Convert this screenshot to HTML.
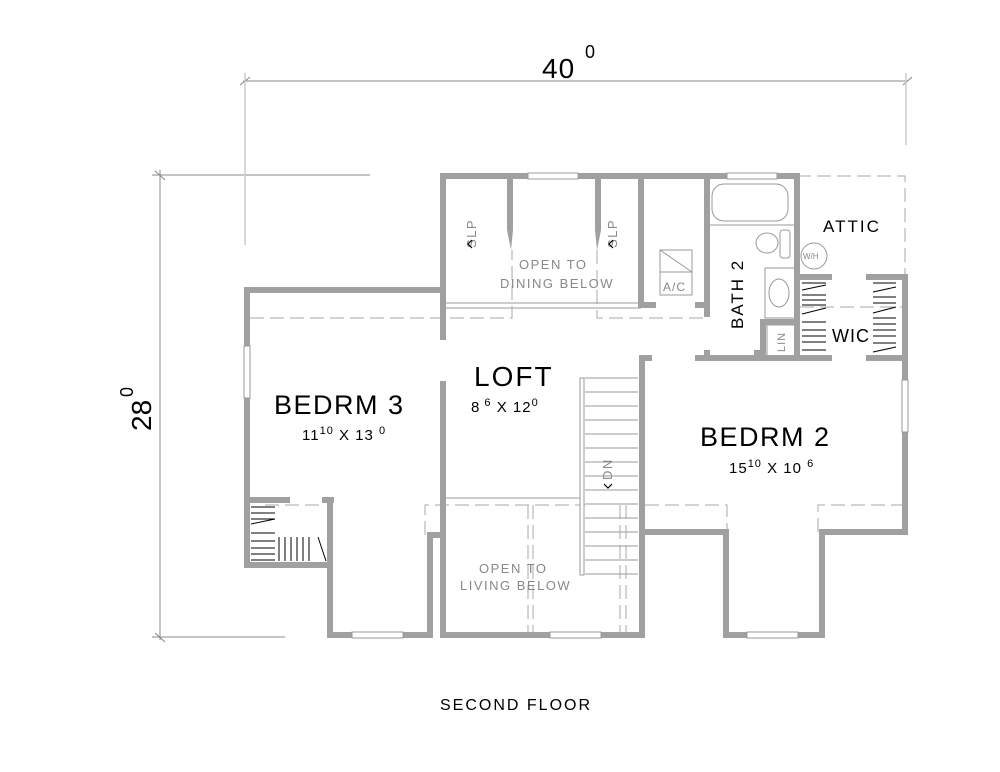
<!DOCTYPE html>
<html><head><style>
html,body{margin:0;padding:0;background:#fff;}
svg{display:block;font-family:"Liberation Sans",sans-serif;}
</style></head><body>
<svg width="1000" height="772" viewBox="0 0 1000 772" xmlns="http://www.w3.org/2000/svg">
<g stroke="#888" stroke-width="1" fill="none">
<line x1="243" y1="81" x2="908" y2="81"/>
<line x1="160" y1="170" x2="160" y2="640"/>
<line x1="152" y1="175" x2="370" y2="175"/>
<line x1="152" y1="637" x2="285" y2="637"/>
<line x1="240" y1="85" x2="250" y2="77"/><line x1="903" y1="85" x2="912" y2="77"/>
<line x1="155" y1="171" x2="165" y2="180"/><line x1="155" y1="633" x2="165" y2="642"/>
</g>
<g stroke="#ccc" stroke-width="1.5"><line x1="245" y1="73" x2="245" y2="245"/><line x1="906" y1="73" x2="906" y2="145"/></g>
<text x="542" y="78" font-size="28" letter-spacing="1">40</text><text x="585" y="58" font-size="18">0</text>
<g transform="translate(151,431) rotate(-90)"><text x="0" y="0" font-size="28">28</text><text x="34" y="-18" font-size="18">0</text></g>

<g stroke="#aaa" stroke-width="1" fill="none" stroke-dasharray="14,6">
<polyline points="250,318 512,318 512,250"/>
<polyline points="597,250 597,318 707,318"/>
<polyline points="797,176 905,176 905,277"/>
<line x1="800" y1="307" x2="905" y2="307"/>
<line x1="265" y1="505" x2="325" y2="505"/>
<polyline points="425,535 425,505 585,505"/>
<line x1="528" y1="505" x2="528" y2="635"/><line x1="533" y1="505" x2="533" y2="635"/>
<line x1="620" y1="505" x2="620" y2="635"/><line x1="626" y1="505" x2="626" y2="635"/>
<polyline points="645,505 727,505 727,532"/>
<polyline points="818,532 818,505 905,505"/>
<line x1="445" y1="250" x2="445" y2="320"/>
</g>

<g stroke="#999" stroke-width="1" fill="none">
<line x1="445" y1="303" x2="641" y2="303"/><line x1="445" y1="308" x2="641" y2="308"/>
<line x1="445" y1="498" x2="582" y2="498"/>
<rect x="580" y="378" width="4" height="197" fill="#fff"/>
<rect x="712" y="184" width="76" height="37" rx="12"/>
<line x1="710" y1="225" x2="795" y2="225"/>
<ellipse cx="767" cy="243" rx="11" ry="10"/><rect x="780" y="230" width="10" height="28" rx="3"/>
<rect x="765" y="268" width="32" height="50"/><ellipse cx="779" cy="293" rx="10" ry="14"/>
<circle cx="814" cy="256" r="13"/>
<rect x="660" y="250" width="32" height="45"/><line x1="660" y1="272" x2="692" y2="272"/><line x1="660" y1="250" x2="692" y2="272"/>
<rect x="767" y="325" width="28" height="32"/>
</g>
<g stroke="#999" stroke-width="1">
<line x1="585" y1="378" x2="638" y2="378"/><line x1="585" y1="392" x2="638" y2="392"/><line x1="585" y1="406" x2="638" y2="406"/>
<line x1="585" y1="420" x2="638" y2="420"/><line x1="585" y1="434" x2="638" y2="434"/><line x1="585" y1="448" x2="638" y2="448"/>
<line x1="585" y1="462" x2="638" y2="462"/><line x1="585" y1="476" x2="638" y2="476"/><line x1="585" y1="490" x2="638" y2="490"/>
<line x1="585" y1="504" x2="638" y2="504"/><line x1="585" y1="518" x2="638" y2="518"/><line x1="585" y1="532" x2="638" y2="532"/>
<line x1="585" y1="546" x2="638" y2="546"/><line x1="585" y1="560" x2="638" y2="560"/><line x1="585" y1="574" x2="638" y2="574"/>
</g>
<g stroke="#000" stroke-width="1">
<line x1="251" y1="507" x2="275" y2="507"/><line x1="251" y1="513" x2="275" y2="513"/><line x1="251" y1="519" x2="275" y2="519"/>
<line x1="251" y1="524" x2="275" y2="519"/><line x1="251" y1="533" x2="275" y2="533"/><line x1="251" y1="541" x2="275" y2="541"/>
<line x1="251" y1="548" x2="275" y2="548"/><line x1="251" y1="554" x2="275" y2="554"/><line x1="251" y1="560" x2="275" y2="560"/>
<line x1="279" y1="537" x2="279" y2="561"/><line x1="285" y1="537" x2="285" y2="561"/><line x1="291" y1="537" x2="291" y2="561"/>
<line x1="297" y1="537" x2="297" y2="561"/><line x1="303" y1="537" x2="303" y2="561"/><line x1="309" y1="537" x2="309" y2="561"/>
<line x1="318" y1="537" x2="326" y2="561"/>
<line x1="802" y1="283" x2="826" y2="283"/><line x1="802" y1="290" x2="826" y2="285"/><line x1="802" y1="295" x2="826" y2="295"/>
<line x1="802" y1="300" x2="826" y2="300"/><line x1="802" y1="305" x2="826" y2="305"/><line x1="802" y1="314" x2="826" y2="308"/>
<line x1="802" y1="322" x2="826" y2="322"/><line x1="802" y1="330" x2="826" y2="330"/><line x1="802" y1="336" x2="826" y2="336"/>
<line x1="802" y1="342" x2="826" y2="342"/><line x1="802" y1="350" x2="826" y2="350"/>
<line x1="873" y1="283" x2="896" y2="283"/><line x1="873" y1="292" x2="896" y2="287"/><line x1="873" y1="297" x2="896" y2="297"/>
<line x1="873" y1="303" x2="896" y2="303"/><line x1="873" y1="313" x2="896" y2="307"/><line x1="873" y1="318" x2="896" y2="318"/>
<line x1="873" y1="324" x2="896" y2="324"/><line x1="873" y1="330" x2="896" y2="330"/><line x1="873" y1="336" x2="896" y2="336"/>
<line x1="873" y1="343" x2="896" y2="343"/><line x1="873" y1="352" x2="896" y2="347"/>
</g>

<g stroke="#a0a0a0" stroke-width="6" fill="none" stroke-linejoin="miter">
<polyline points="443,340 443,176 797,176 797,358"/>
<polyline points="443,290 247,290 247,565 330,565"/>
<polyline points="330,500 330,635 430,635 430,535 443,535"/>
<line x1="247" y1="500" x2="290" y2="500"/><line x1="322" y1="500" x2="334" y2="500"/>
<polyline points="443,381 443,635 642,635 642,358 652,358"/>
<polyline points="642,532 726,532 726,635 822,635 822,532 905,532 905,277 866,277"/>
<line x1="797" y1="277" x2="832" y2="277"/>
<line x1="695" y1="358" x2="832" y2="358"/><line x1="866" y1="358" x2="905" y2="358"/>
<polyline points="641,176 641,305 656,305"/>
<polyline points="707,176 707,317"/><line x1="695" y1="305" x2="707" y2="305"/>
<polyline points="763,358 763,322 797,322"/>
<line x1="707" y1="350" x2="707" y2="358"/><line x1="757" y1="350" x2="757" y2="358"/>
</g>
<polygon points="507,176 513,176 513,230 511,250 507,230" fill="#a0a0a0"/>
<polygon points="595,176 601,176 601,230 597,250 595,230" fill="#a0a0a0"/>
<g fill="#fff" stroke="#999" stroke-width="1">
<rect x="528" y="173" width="50" height="6"/><rect x="727" y="173" width="50" height="6"/>
<rect x="244" y="346" width="6" height="52"/><rect x="352" y="632" width="51" height="6"/>
<rect x="550" y="632" width="51" height="6"/><rect x="747" y="632" width="51" height="6"/>
<rect x="902" y="380" width="6" height="52"/>
</g>

<g fill="#888" font-size="13" letter-spacing="1.5">
<text x="519" y="269">OPEN  TO</text><text x="500" y="288">DINING  BELOW</text>
<text x="479" y="573">OPEN  TO</text><text x="460" y="590">LIVING  BELOW</text>
<text x="663" y="291" font-size="12" letter-spacing="1">A/C</text>
<text x="803" y="259" font-size="8" letter-spacing="0">W/H</text>
<text transform="translate(476,248) rotate(-90)">SLP</text>
<text transform="translate(617,248) rotate(-90)">SLP</text>
<text transform="translate(612,480) rotate(-90)">DN</text>
<text transform="translate(785,352) rotate(-90)" font-size="11" letter-spacing="1">LIN</text>
</g>
<g stroke="#000" stroke-width="1.2" fill="none">
<polyline points="472,240 468,244 472,248"/><polyline points="613,240 609,244 613,248"/>
<polyline points="604,484 608,488 612,484"/>
</g>
<text x="274" y="414" font-size="27" letter-spacing="1.5">BEDRM  3</text>
<text x="302" y="440" font-size="15" letter-spacing="1">11<tspan font-size="11" dy="-6">10</tspan><tspan dy="6">  X   13 </tspan><tspan font-size="11" dy="-6">0</tspan></text>
<text x="474" y="386" font-size="28" letter-spacing="2">LOFT</text>
<text x="471" y="412" font-size="15" letter-spacing="1">8<tspan font-size="11" dy="-6"> 6</tspan><tspan dy="6">  X   12</tspan><tspan font-size="11" dy="-6">0</tspan></text>
<text x="700" y="446" font-size="27" letter-spacing="1.5">BEDRM  2</text>
<text x="729" y="473" font-size="15" letter-spacing="1">15<tspan font-size="11" dy="-6">10</tspan><tspan dy="6">  X   10 </tspan><tspan font-size="11" dy="-6">6</tspan></text>
<text x="823" y="232" font-size="17" letter-spacing="2">ATTIC</text>
<text x="832" y="342" font-size="18" letter-spacing="1">WIC</text>
<text transform="translate(743,329) rotate(-90)" font-size="17" letter-spacing="2">BATH 2</text>
<text x="440" y="710" font-size="16" letter-spacing="2">SECOND FLOOR</text>
</svg>
</body></html>
